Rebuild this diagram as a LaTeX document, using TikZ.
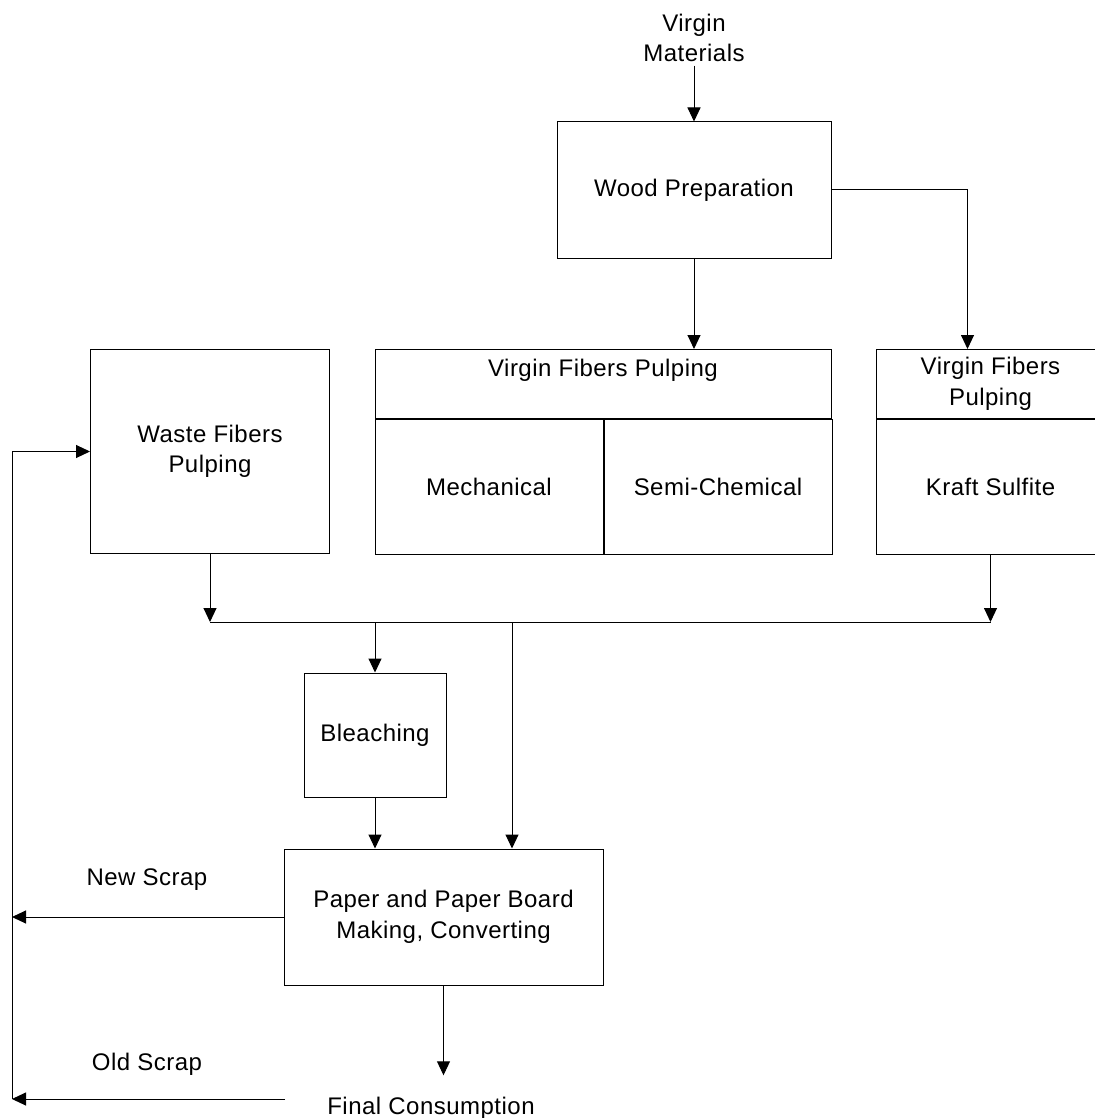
\documentclass[tikz,border=0pt]{standalone}
\usepackage{fontspec}
\setmainfont{Liberation Sans}[LetterSpace=2]
\usetikzlibrary{arrows.meta,positioning}
\tikzset{
  box/.style={draw, line width=1pt, inner sep=0pt, align=center},
  flow/.style={-{Triangle[length=14pt,width=13pt]}, line width=1pt},
  wire/.style={line width=1pt},
}
\begin{document}
\begin{tikzpicture}[x=1pt, y=-1pt, font=\fontsize{24}{30.5}\selectfont]
    \useasboundingbox (0,0) rectangle (1094,1118);
    \node[align=center] (virgin) at (694,38) {Virgin\\Materials};
    \node[box, minimum width=274pt, minimum height=136pt] (wood) at (694,190) {Wood Preparation};
    % virgin fibers, two processes
    \node[box, anchor=north, minimum width=456pt, text height=27pt, text depth=42pt] (vfp) at (603,349) {Virgin Fibers Pulping};
    \node[box, anchor=north west, minimum width=228pt, minimum height=135pt] (mech) at (vfp.south west) {Mechanical};
    \node[box, anchor=north west, minimum width=228pt, minimum height=135pt] (semi) at (mech.north east) {Semi-Chemical};
    \node[box, anchor=north west, minimum width=228pt, minimum height=69pt] (kraftT) at (876,349) {Virgin Fibers\\Pulping};
    \node[box, anchor=north, minimum width=228pt, minimum height=135pt] (kraft) at (kraftT.south) {Kraft Sulfite};
    \node[box, anchor=north west, minimum width=239pt, minimum height=204pt] (waste) at (90,349) {Waste Fibers\\Pulping};
    \node[box, minimum width=142pt, minimum height=124pt] (bleach) at (375,735) {Bleaching};
    \node[box, minimum width=319pt, minimum height=136pt] (paper) at (443.5,917) {Paper and Paper Board\\Making, Converting};
    \node (final) at (431,1108) {Final Consumption};
    \node (newscrap) at (147,880) {New Scrap};
    \node (oldscrap) at (147,1064) {Old Scrap};
    \coordinate (bus) at (0,622);
    \coordinate (tap) at (512,622);
    \coordinate (oldfrom) at (285,1099);
    \coordinate (loopbot) at (12,1099);

    \draw[flow] (virgin.south) -- (wood.north);
    \draw[flow] (wood.south) -- (wood.south |- vfp.north);
    \draw[flow] (wood.east) -| ([xshift=-23pt]kraftT.north);
    \draw[flow] (waste.south) -- (waste.south |- bus);
    \draw[flow] (kraft.south) -- (kraft.south |- bus);
    \draw[wire] (waste.south |- bus) -- (kraft.south |- bus);
    \draw[flow] (bleach.north |- bus) -- (bleach.north);
    \draw[flow] (tap) -- (tap |- paper.north);
    \draw[flow] (bleach.south) -- (bleach.south |- paper.north);
    \draw[flow, shorten >=18pt] (paper.south) -- (paper.south |- final.north);
    % scrap back to waste fibers
    \draw[flow] (paper.west) -- (paper.west -| loopbot);
    \draw[flow] (oldfrom) -- (loopbot);
    \draw[flow] (loopbot) -- (waste.west -| loopbot) -- (waste.west);
\end{tikzpicture}
\end{document}
